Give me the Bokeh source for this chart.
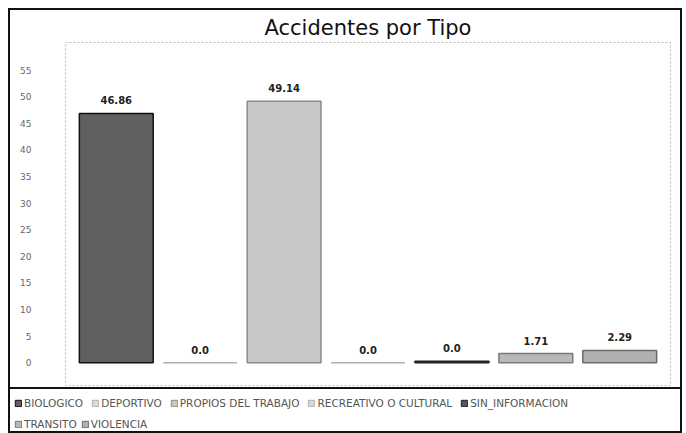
from bokeh.plotting import figure
from bokeh.layouts import column, row
from bokeh.models import ColumnDataSource, FactorRange, Range1d, Legend, LegendItem, FixedTicker
from bokeh.embed import file_html
from bokeh.resources import INLINE
from bokeh.core.properties import value

categories = ["BIOLOGICO", "DEPORTIVO", "PROPIOS DEL TRABAJO", "RECREATIVO O CULTURAL",
              "SIN_INFORMACION", "TRANSITO", "VIOLENCIA"]
values = [46.86, 0.0, 49.14, 0.0, 0.0, 1.71, 2.29]
display_values = [46.86, 0.0, 49.14, 0.0, 0.25, 1.71, 2.29]  # small visible sliver as in picture
labels = [str(v) for v in values]
y_ticks = [0, 5, 10, 15, 20, 25, 30, 35, 40, 45, 50, 55]

fills = ["#606060", "#dadada", "#c8c8c8", "#d6d6d6", "#555555", "#b8b8b8", "#b0b0b0"]
lines = ["#111111", "#b0b0b0", "#8a8a8a", "#b0b0b0", "#222222", "#7a7a7a", "#6a6a6a"]

src = ColumnDataSource(dict(cat=categories, top=display_values, val=values, lab=labels,
                            fill=fills, line=lines))

p = figure(width=670, height=377, output_backend="svg", toolbar_location=None,
           x_range=FactorRange(*categories, range_padding=0.03),
           y_range=Range1d(-4.3, 60.2),
           min_border_left=55, min_border_right=10, min_border_top=0, min_border_bottom=2,
           title="Accidentes por Tipo")
p.title.align = "center"
p.title.text_font = "DejaVu Sans"
p.title.text_font_size = "21px"
p.title.text_font_style = "normal"
p.title.text_color = "#111111"
p.title.standoff = 6

p.vbar(x="cat", top="top", bottom=0, width=0.88, source=src,
       fill_color="fill", line_color="line", line_width=1.5)

p.text(x="cat", y="top", text="lab", source=src, text_align="center",
       text_baseline="bottom", y_offset=-9, text_font=value("DejaVu Sans"),
       text_font_size="10px", text_font_style="bold", text_color="#222222")

p.xaxis.visible = False
p.yaxis.ticker = FixedTicker(ticks=y_ticks)
p.yaxis.axis_line_color = None
p.yaxis.major_tick_line_color = None
p.yaxis.minor_tick_line_color = None
p.yaxis.major_label_standoff = 28
p.yaxis.major_label_text_font = "DejaVu Sans"
p.yaxis.major_label_text_font_size = "9px"
p.yaxis.major_label_text_color = "#666666"
p.xgrid.grid_line_color = None
p.ygrid.grid_line_color = None
p.outline_line_color = "#bbbbbb"
p.outline_line_dash = "2 2"
p.background_fill_color = "#ffffff"
p.border_fill_color = "#ffffff"

# legend strip
lg = figure(width=670, height=42, output_backend="svg", toolbar_location=None,
            x_range=FactorRange(*categories), y_range=Range1d(1000, 1001),
            min_border_left=0, min_border_right=0, min_border_top=0, min_border_bottom=0)
lg.axis.visible = False
lg.grid.grid_line_color = None
lg.outline_line_color = None
r = lg.vbar(x="cat", top="top", bottom=0, width=0.86, source=src,
            fill_color="fill", line_color="line", line_width=1)

items = [LegendItem(label=c, renderers=[r], index=i) for i, c in enumerate(categories)]
common = dict(orientation="horizontal", label_text_font="DejaVu Sans",
              label_text_font_size="10.5px", label_text_color="#555555",
              glyph_width=8, glyph_height=8, label_standoff=2, padding=0, margin=0,
              label_height=13, border_line_color=None, background_fill_alpha=0)
legend1 = Legend(items=items[:5], spacing=8, location=(4, 22), **common)
legend2 = Legend(items=items[5:], spacing=4, location=(4, 1), **common)
lg.add_layout(legend1)
lg.add_layout(legend2)

lg_row = row(lg, styles={"border-top": "2px solid #111111"})
layout = column(p, lg_row, spacing=0, margin=(8, 0, 0, 8),
                styles={"border": "2px solid #111111"})
open("out.html", "w").write(file_html(layout, INLINE))
